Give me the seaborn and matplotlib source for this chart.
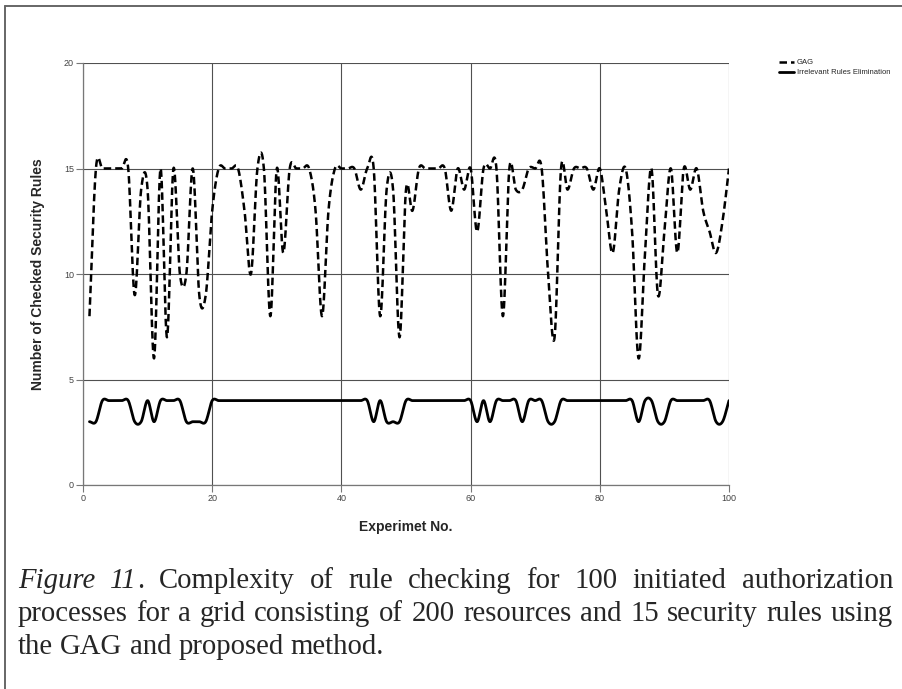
import matplotlib
matplotlib.use("Agg")
import matplotlib.pyplot as plt
from matplotlib.lines import Line2D
from matplotlib.transforms import IdentityTransform
import numpy as np
import pandas as pd
import seaborn as sns

experiment_no = list(range(1, 101))
gag_rules = [8, 15, 15, 15, 15, 15, 15, 9, 14, 14,
             6, 15, 7, 15, 10, 10, 15, 9, 9, 13,
             15, 15, 15, 15, 13, 10, 15, 15, 8, 15,
             11, 15, 15, 15, 15, 13, 8, 13, 15, 15,
             15, 15, 14, 15, 15, 8, 14, 14, 7, 14,
             13, 15, 15, 15, 15, 15, 13, 15, 14, 15,
             12, 15, 15, 15, 8, 15, 14, 14, 15, 15,
             15, 10, 7, 15, 14, 15, 15, 15, 14, 15,
             13, 11, 14, 15, 12, 6, 11, 15, 9, 12,
             15, 11, 15, 14, 15, 13, 12, 11, 12.5, 15]
ire_rules = [3, 3, 4, 4, 4, 4, 4, 3, 3, 4,
             3, 4, 4, 4, 4, 3, 3, 3, 3, 4,
             4, 4, 4, 4, 4, 4, 4, 4, 4, 4,
             4, 4, 4, 4, 4, 4, 4, 4, 4, 4,
             4, 4, 4, 4, 3, 4, 3, 3, 3, 4,
             4, 4, 4, 4, 4, 4, 4, 4, 4, 4,
             3, 4, 3, 4, 4, 4, 4, 3, 4, 4,
             4, 3, 3, 4, 4, 4, 4, 4, 4, 4,
             4, 4, 4, 4, 4, 3, 4, 4, 3, 3,
             4, 4, 4, 4, 4, 4, 4, 3, 3, 4]
series_names = ["GAG", "Irrelevant Rules Elimination"]
x_ticks = [0, 20, 40, 60, 80, 100]
y_ticks = [0, 5, 10, 15, 20]

caption = [
    [[("Figure", True)], [("11", True), (".", False)], [("Complexity", False)], [("of", False)],
     [("rule", False)], [("checking", False)], [("for", False)], [("100", False)],
     [("initiated", False)], [("authorization", False)]],
    [[(w, False)] for w in "processes for a grid consisting of 200 resources and 15 security rules using".split()],
    [[(w, False)] for w in "the GAG and proposed method.".split()],
]


def spline(xs, ys, n=24):
    # cardinal (Catmull-Rom) curve through the points, like the chart's spline series
    xs = np.asarray(xs, float)
    ys = np.asarray(ys, float)
    m = np.gradient(ys)
    t = np.linspace(0, 1, n, endpoint=False)
    h00 = 2 * t**3 - 3 * t**2 + 1
    h10 = t**3 - 2 * t**2 + t
    h01 = -2 * t**3 + 3 * t**2
    h11 = t**3 - t**2
    px, py = [], []
    for i in range(len(xs) - 1):
        px.append(xs[i] + t * (xs[i + 1] - xs[i]))
        py.append(h00 * ys[i] + h10 * m[i] + h01 * ys[i + 1] + h11 * m[i + 1])
    px.append([xs[-1]])
    py.append([ys[-1]])
    return np.concatenate(px), np.concatenate(py)


sns.set_style("white")
plt.rcParams["font.family"] = ["Liberation Sans", "DejaVu Sans"]

fig = plt.figure(figsize=(9.02, 6.89), dpi=100)
ax = fig.add_axes([83 / 902, 1 - 485 / 689, 646 / 902, 422 / 689])

gx, gy = spline(experiment_no, gag_rules)
ix, iy = spline(experiment_no, ire_rules)
df_gag = pd.DataFrame({"x": gx, "y": gy})
df_ire = pd.DataFrame({"x": ix, "y": iy})

dash = (0, (3.0, 1.6))
sns.lineplot(data=df_gag, x="x", y="y", ax=ax, color="black", lw=1.8,
             linestyle=dash, label=series_names[0], estimator=None, sort=False)
sns.lineplot(data=df_ire, x="x", y="y", ax=ax, color="black", lw=2.0,
             label=series_names[1], estimator=None, sort=False)

ax.set_xlim(0, 100)
ax.set_ylim(0, 20)
ax.set_xticks(x_ticks)
ax.set_yticks(y_ticks)
ax.grid(True, color="#505050", lw=0.8)
ax.set_axisbelow(True)
for s in ["top", "right"]:
    ax.spines[s].set_visible(False)
for s in ["left", "bottom"]:
    ax.spines[s].set_color("#777777")
    ax.spines[s].set_linewidth(0.9)
ax.tick_params(axis="both", length=5, width=0.8, color="#777777", labelsize=6.5,
               labelcolor="#444444", pad=1.5, left=True, bottom=True)
ax.set_xlabel("Experimet No.", fontsize=10, fontweight="bold", labelpad=12)
ax.set_ylabel("Number of Checked Security Rules", fontsize=10, fontweight="bold", labelpad=14)

ax.get_legend().remove()
handles = [Line2D([], [], color="black", lw=1.8, linestyle=dash),
           Line2D([], [], color="black", lw=2.0)]
fig.legend(handles, series_names, loc="upper left", bbox_to_anchor=(776 / 902, 1 - 56 / 689),
           frameon=False, fontsize=5.5, handlelength=1.9, handletextpad=0.45,
           labelspacing=0.35, borderaxespad=0)

# page frame around the figure
fig.add_artist(Line2D([5, 5], [0, 683], transform=IdentityTransform(), color="#666666", lw=1.4))
fig.add_artist(Line2D([5, 902], [683, 683], transform=IdentityTransform(), color="#666666", lw=1.4))

# justified caption
renderer = fig.canvas.get_renderer()
left, right = 18, 893
baselines = [689 - 588, 689 - 621, 689 - 654]
fs = 20.7
for li, (words, yb) in enumerate(zip(caption, baselines)):
    groups = []
    total = 0
    for w in words:
        parts = []
        for txt, it in w:
            t = fig.text(0, yb, txt, transform=IdentityTransform(), fontsize=fs,
                         family="Liberation Serif", style="italic" if it else "normal",
                         va="baseline", ha="left")
            wd = t.get_window_extent(renderer).width
            parts.append((t, wd))
            total += wd
        groups.append(parts)
    if li < len(caption) - 1:
        gap = (right - left - total) / (len(words) - 1)
    else:
        gap = fs * 100 / 72 * 0.25
    xpos = left
    for parts in groups:
        for t, wd in parts:
            t.set_x(xpos)
            xpos += wd
        xpos += gap

fig.savefig("out.png", dpi=100)
